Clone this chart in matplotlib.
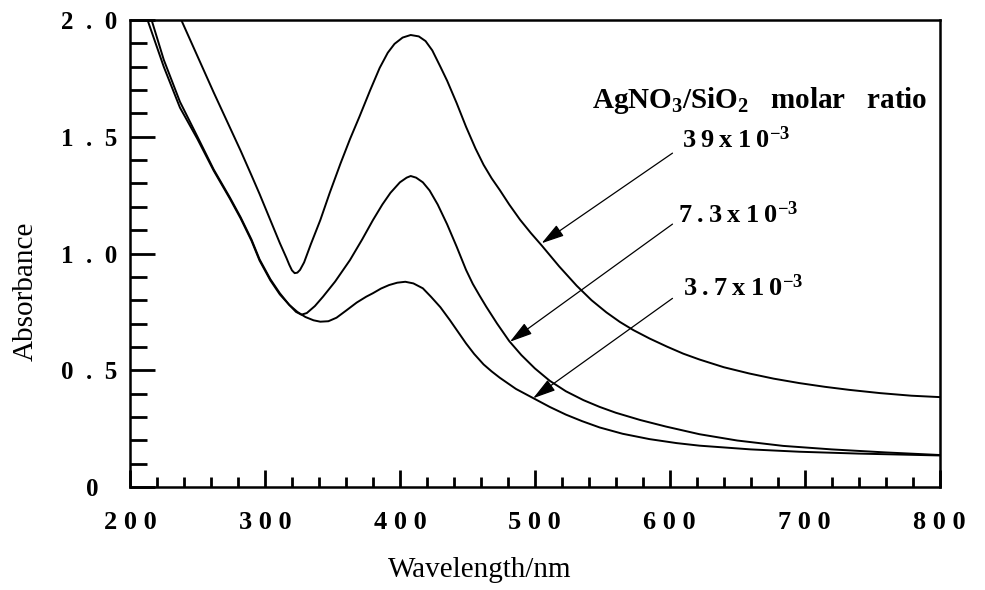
import matplotlib
matplotlib.use("Agg")
import matplotlib.pyplot as plt
from matplotlib.ticker import MultipleLocator

plt.rcParams['font.family'] = ['Liberation Serif', 'DejaVu Serif']
plt.rcParams['mathtext.fontset'] = 'custom'
plt.rcParams['mathtext.rm'] = 'Liberation Serif:bold'
plt.rcParams['mathtext.it'] = 'Liberation Serif:bold'
plt.rcParams['mathtext.bf'] = 'Liberation Serif:bold'

# AgNO3/SiO2 = 39e-3
wl_39 = [238, 250, 262, 272, 282, 290, 296, 301, 306, 311, 316, 318, 320, 322, 324,
         326, 329, 334, 341, 348, 356, 363, 370, 378, 385, 391, 396, 402, 408, 414,
         419, 424, 430, 435, 442, 449, 456, 462, 468, 474, 481, 489, 497, 505, 518,
         531, 542, 553, 563, 573, 585, 598, 610, 622, 640, 659, 677, 696, 715, 733,
         756, 779, 800]
abs_39 = [2.00, 1.845, 1.69, 1.565, 1.44, 1.335, 1.255, 1.185, 1.115, 1.045, 0.98,
          0.952, 0.928, 0.916, 0.918, 0.93, 0.962, 1.04, 1.143, 1.26, 1.386, 1.49,
          1.586, 1.70, 1.795, 1.86, 1.898, 1.925, 1.936, 1.93, 1.91, 1.87, 1.80, 1.74,
          1.645, 1.543, 1.45, 1.38, 1.322, 1.272, 1.21, 1.145, 1.088, 1.035, 0.945,
          0.862, 0.80, 0.748, 0.707, 0.672, 0.636, 0.601, 0.571, 0.546, 0.513, 0.486,
          0.464, 0.445, 0.429, 0.416, 0.402, 0.391, 0.385]

# AgNO3/SiO2 = 7.3e-3
wl_73 = [216, 225, 237, 250, 262, 274, 282, 290, 296, 304, 311, 318, 323, 327, 331,
         337, 343, 352, 363, 372, 380, 387, 393, 400, 405, 408, 412, 417, 422, 428,
         435, 442, 449, 454, 459, 464, 472, 481, 490, 500, 511, 523, 536, 548, 560,
         578, 597, 622, 650, 684, 720, 760, 800]
abs_73 = [2.00, 1.83, 1.65, 1.50, 1.36, 1.24, 1.155, 1.06, 0.975, 0.89, 0.83, 0.78,
          0.75, 0.738, 0.745, 0.775, 0.815, 0.88, 0.972, 1.06, 1.143, 1.21, 1.26, 1.305,
          1.325, 1.332, 1.325, 1.305, 1.27, 1.21, 1.125, 1.03, 0.93, 0.87, 0.82, 0.772,
          0.70, 0.625, 0.565, 0.508, 0.455, 0.41, 0.372, 0.343, 0.318, 0.287, 0.259,
          0.226, 0.199, 0.176, 0.161, 0.148, 0.137]

# AgNO3/SiO2 = 3.7e-3
wl_37 = [213, 225, 237, 250, 262, 274, 282, 290, 296, 304, 311, 318, 324, 330, 336,
         341, 347, 353, 360, 368, 375, 380, 386, 392, 398, 404, 410, 417, 423, 430,
         437, 443, 449, 455, 462, 468, 474, 486, 499, 511, 523, 535, 548, 565, 585,
         605, 622, 660, 696, 740, 800]
abs_37 = [2.00, 1.80, 1.625, 1.49, 1.355, 1.235, 1.15, 1.055, 0.97, 0.885, 0.825, 0.78,
          0.75, 0.728, 0.714, 0.708, 0.71, 0.725, 0.755, 0.79, 0.815, 0.83, 0.85, 0.865,
          0.875, 0.879, 0.872, 0.851, 0.815, 0.77, 0.715, 0.665, 0.615, 0.57, 0.525,
          0.495, 0.468, 0.42, 0.38, 0.343, 0.31, 0.282, 0.255, 0.228, 0.205, 0.188,
          0.177, 0.161, 0.151, 0.143, 0.135]

x_ticks = [200, 300, 400, 500, 600, 700, 800]
x_labels = ['2 0 0', '3 0 0', '4 0 0', '5 0 0', '6 0 0', '7 0 0', '8 0 0']
y_ticks = [0, 0.5, 1.0, 1.5, 2.0]
y_labels = ['0   ', '0  .  5', '1  .  0', '1  .  5', '2  .  0']

fig = plt.figure(figsize=(9.85, 5.9), dpi=100)
ax = fig.add_axes([0.132, 0.1746, 0.822, 0.7914])

for wl, ab in [(wl_39, abs_39), (wl_73, abs_73), (wl_37, abs_37)]:
    ax.plot(wl, ab, color='black', lw=1.4, solid_joinstyle='round')

ax.set_xlim(200, 800)
ax.set_ylim(0, 2.0)

ax.set_xticks(x_ticks)
ax.set_xticklabels(x_labels, fontsize=19, fontweight='bold')
ax.set_yticks(y_ticks)
ax.set_yticklabels(y_labels, fontsize=18, fontweight='bold')
ax.xaxis.set_minor_locator(MultipleLocator(20))
ax.yaxis.set_minor_locator(MultipleLocator(0.1))
ax.tick_params(axis='x', which='major', direction='in', length=12, width=2, pad=17)
ax.tick_params(axis='x', which='minor', direction='in', length=7, width=2)
ax.tick_params(axis='y', which='major', direction='in', length=18, width=2, pad=9)
ax.tick_params(axis='y', which='minor', direction='in', length=12, width=2)
for s in ax.spines.values():
    s.set_linewidth(1.8)

ax.set_xlabel('Wavelength/nm', fontsize=21)
ax.xaxis.set_label_coords(0.432, -0.15)
ax.set_ylabel('Absorbance', fontsize=21)
ax.yaxis.set_label_coords(-0.113, 0.418)

ax.text(791, 1.657, r'AgNO$_3$/SiO$_2$   molar   ratio', fontsize=21, fontweight='bold',
        ha='right', va='center')

arrows = [
    ('3\u20099\u2009x\u20091\u20090$^{\\mathrm{-3}}$', (609, 1.486), (602, 1.43), (505, 1.044)),
    ('7\u2009.\u20093\u2009x\u20091\u20090$^{\\mathrm{-3}}$', (606, 1.165), (602, 1.126), (481.5, 0.622)),
    ('3\u2009.\u20097\u2009x\u20091\u20090$^{\\mathrm{-3}}$', (609.5, 0.852), (602, 0.808), (498.7, 0.38)),
]
for label, txt_pos, start, tip in arrows:
    ax.text(txt_pos[0], txt_pos[1], label, fontsize=19, fontweight='bold',
            ha='left', va='center')
    ax.annotate('', xy=tip, xytext=start,
                arrowprops=dict(arrowstyle='-|>,head_length=1.4,head_width=0.4',
                                color='black', lw=0.9, shrinkA=0, shrinkB=0))

fig.savefig('out.png', dpi=100)
